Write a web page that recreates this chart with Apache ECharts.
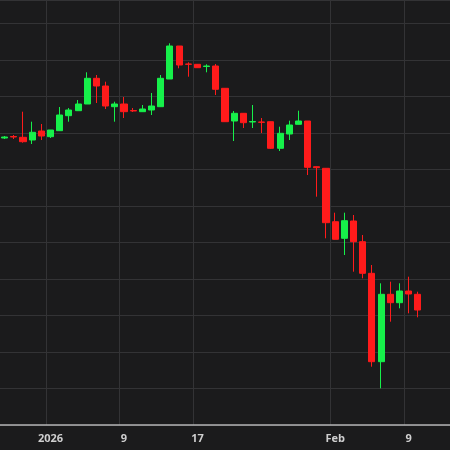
<!DOCTYPE html>
<html>
<head>
<meta charset="utf-8">
<script src="https://cdn.jsdelivr.net/npm/echarts@6/dist/echarts.min.js"></script>
<style>html,body{margin:0;padding:0;background:#1b1b1c}#chart{width:450px;height:450px}</style>
</head>
<body>
<div id="chart"></div>
<script>
// Dec 27 2025 .. Feb 13 2026, daily
const dates = []
for (let d = new Date(2025, 11, 27); d <= new Date(2026, 1, 13); d.setDate(d.getDate() + 1)) {
  dates.push((d.getMonth() + 1) + '-' + d.getDate())
}
const tickLabels = { '1-1': '2026', '1-9': '9', '1-17': '17', '2-1': 'Feb', '2-9': '9' }

// [open, close, low, high]
const candles = [
  [287, 288, 286, 289], [288.5, 288, 286, 290], [287.7, 283.3, 282.3, 313.3], [285, 292.7, 281, 303.3],
  [294, 289, 285, 301], [288.3, 295, 287, 295], [294.3, 310, 294, 318], [309.3, 315, 303.3, 317],
  [314.3, 321, 314, 325], [321, 346.7, 321, 352.7], [346.7, 339, 322, 350], [339, 319, 316, 343.3],
  [318.3, 321, 303.3, 323.3], [321, 313.3, 307, 328], [314.5, 314, 313, 317], [313.3, 316, 313, 320],
  [315, 319, 310, 332], [318.3, 346.7, 318, 350], [346, 379, 346, 381.7], [379, 360, 356.7, 379],
  [361, 360.7, 348.3, 362.7], [360.7, 357.3, 357, 361], [358.5, 359, 352.7, 360.7], [359, 335.7, 330, 361],
  [336.7, 303.3, 303, 337], [304, 311.7, 284, 314], [311.7, 302.3, 297, 312], [303, 303.5, 297, 320],
  [303, 302.7, 292, 307], [303.3, 276.7, 276, 303.5], [276.7, 291.7, 274, 298.3], [291, 300, 285, 304.3],
  [300.7, 304, 300.5, 314.3], [304, 257.7, 250, 304], [258.3, 257.3, 228.3, 258.7], [256.7, 202.3, 186.7, 257],
  [203.3, 185.7, 185.5, 212.3], [186.7, 204.3, 170, 212.3], [204, 183.3, 153.3, 210], [183.3, 151.7, 146.7, 190],
  [151.7, 63.3, 58.3, 160], [63.3, 130.7, 36.7, 141.7], [130.7, 122.3, 103.3, 143.3], [122.3, 134, 116.7, 141.7],
  [134, 131, 111.7, 148.3], [130.7, 115, 107.7, 133.3]
]

const chart = echarts.init(document.getElementById('chart'))
chart.setOption({
  backgroundColor: '#1b1b1c',
  animation: false,
  grid: { left: 0, right: 0, top: 0, height: 425 },
  xAxis: {
    type: 'category',
    data: dates,
    boundaryGap: true,
    axisLine: { lineStyle: { color: '#b5b5b5', width: 1.5 } },
    axisTick: { show: false },
    axisLabel: {
      interval: 0,
      color: '#cfcfcf',
      fontSize: 11,
      fontWeight: 'bold',
      fontFamily: 'Open Sans',
      margin: 8,
      formatter: v => tickLabels[v] || ''
    },
    splitLine: {
      show: true,
      interval: (i, v) => !!tickLabels[v],
      lineStyle: { color: '#333335' }
    }
  },
  yAxis: {
    type: 'value',
    min: 0,
    max: 425,
    interval: 36.5,
    axisLabel: { show: false },
    axisLine: { show: false },
    axisTick: { show: false },
    splitLine: { lineStyle: { color: '#333335' } }
  },
  series: [{
    type: 'candlestick',
    data: candles,
    barWidth: '72%',
    itemStyle: {
      color: '#16f04a',
      color0: '#ff1b1b',
      borderColor: '#16f04a',
      borderColor0: '#ff1b1b'
    }
  }]
})
</script>
</body>
</html>
